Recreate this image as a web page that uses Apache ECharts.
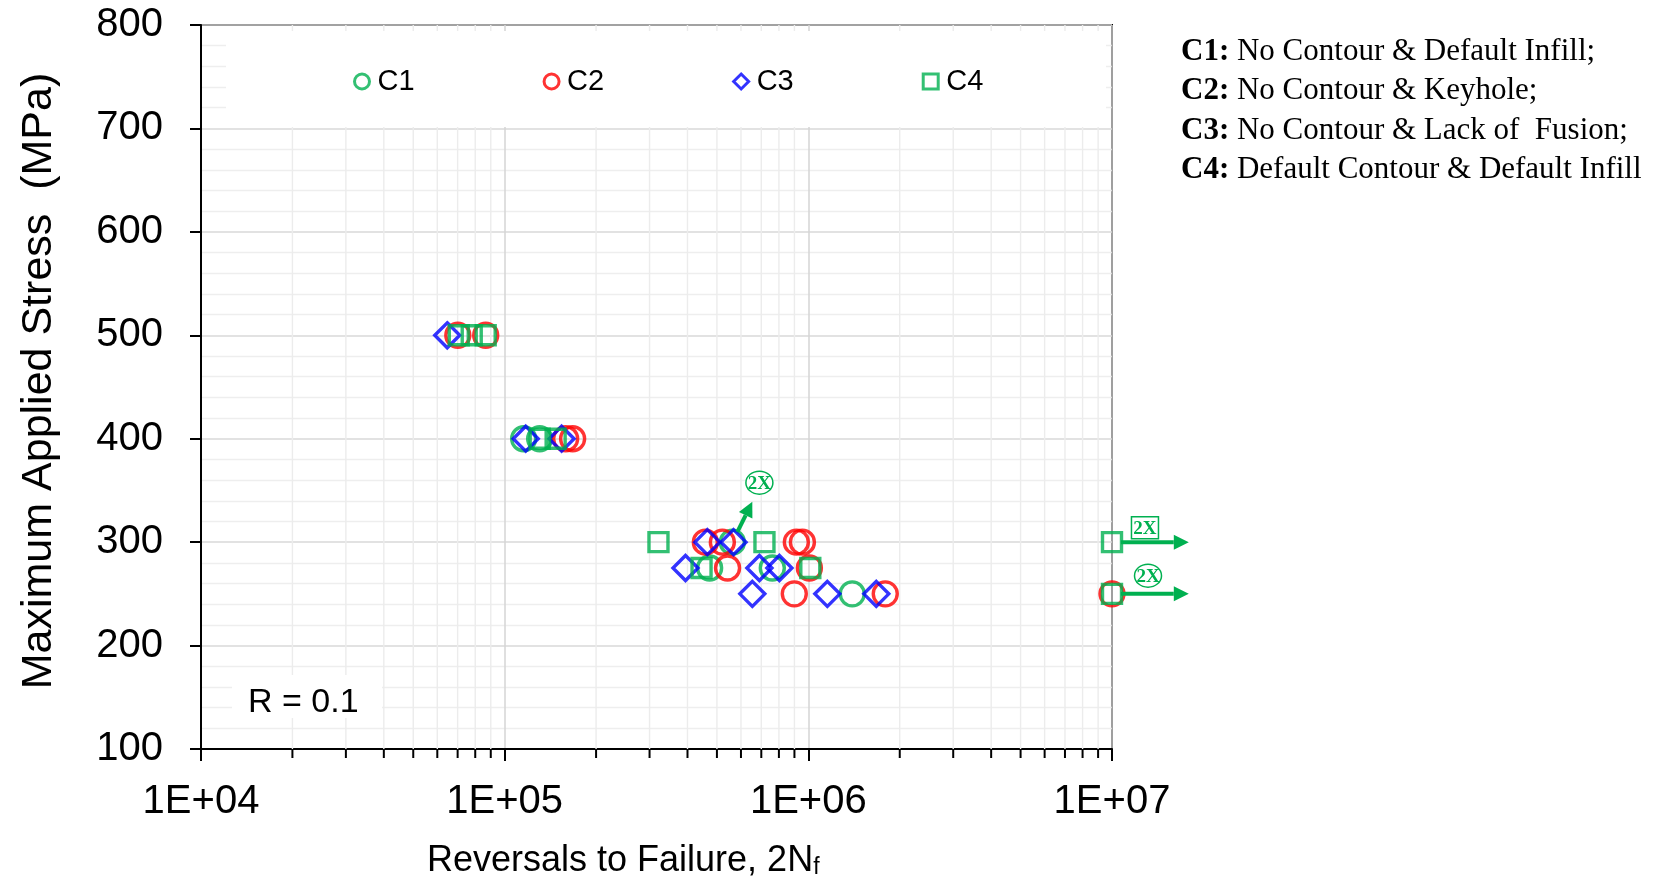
<!DOCTYPE html>
<html>
<head>
<meta charset="utf-8">
<script src="https://cdn.jsdelivr.net/npm/echarts@6/dist/echarts.min.js"></script>
<style>
  html, body { margin: 0; padding: 0; background: #fff; }
  #chart { width: 1657px; height: 879px; }
</style>
</head>
<body>
<div id="chart"></div>
<script>
// reversals to failure (2Nf) and max stress (MPa)
const c1Cycles = [1.155e5, 1.304e5, 5.62e5, 4.73e5, 7.61e5, 1.395e6]
const c1Stress = [400, 400, 300, 275, 275, 250]

const c2Cycles = [7.01e4, 8.66e4, 1.588e5, 1.674e5, 4.58e5, 5.21e5, 9.13e5, 9.56e5, 5.42e5, 1.008e6, 8.99e5, 1.792e6, 1e7]
const c2Stress = [500, 500, 400, 400, 300, 300, 300, 300, 275, 275, 250, 250, 250]

const c3Cycles = [6.47e4, 1.173e5, 1.54e5, 4.65e5, 5.67e5, 3.94e5, 6.9e5, 8.03e5, 6.54e5, 1.155e6, 1.674e6]
const c3Stress = [500, 400, 400, 300, 300, 275, 275, 275, 250, 250, 250]

const c4Cycles = [7.06e4, 7.79e4, 8.66e4, 1.304e5, 1.472e5, 3.21e5, 7.17e5, 1e7, 4.45e5, 1.015e6, 1e7]
const c4Stress = [500, 500, 500, 400, 400, 300, 300, 300, 275, 275, 250]

// run-out arrows: [fromN, fromS, toN, toS]
const runoutArrows = [
    [1.07e7, 300, 1.79e7, 300],
    [1.07e7, 250, 1.79e7, 250],
    [5.84e5, 310, 6.54e5, 339],
]
const boxedLabels = [[1.284e7, 314]]
const circledLabels = [[1.314e7, 267.6], [6.9e5, 357.5]]

const seriesNames = ['C1', 'C2', 'C3', 'C4']
const decadeStarts = [1e4, 1e5, 1e6]
const minorSteps = [2, 3, 4, 5, 6, 7, 8, 9]

const green = '#00B050'
const red = '#FF0000'
const blue = '#0000FF'

const zip = (xs, ys) => xs.map((x, i) => [x, ys[i]])
const minorValues = []
decadeStarts.forEach((d) => minorSteps.forEach((m) => minorValues.push([d * m, 100])))

const chart = echarts.init(document.getElementById('chart'))

const hollow = (c) => ({ color: 'rgba(0,0,0,0)', borderColor: c, borderWidth: 3.4 })

const option = {
    animation: false,
    textStyle: { fontFamily: 'Liberation Sans' },
    grid: {
        left: 201, top: 25, right: 545, bottom: 130,
        show: true, borderColor: '#000', borderWidth: 2,
    },
    legend: {
        data: seriesNames,
        left: 348, top: 62,
        itemGap: 128, itemWidth: 15, itemHeight: 15,
        z: 10,
        itemStyle: { borderWidth: 3 },
        textStyle: { fontSize: 29, color: '#000', padding: [0, 0, 0, 3] },
    },
    xAxis: {
        type: 'log', logBase: 10, min: 1e4, max: 1e7,
        axisLine: { lineStyle: { color: '#000', width: 2 } },
        axisTick: { length: 12, lineStyle: { color: '#000', width: 2 } },
        axisLabel: {
            fontSize: 40, color: '#000', margin: 33,
            formatter: (v) => '1E+0' + Math.round(Math.log10(v)),
        },
        splitLine: { show: true, lineStyle: { color: '#d4d4d4', width: 1.5 } },
    },
    yAxis: {
        type: 'value', min: 100, max: 800, interval: 100,
        axisLine: { show: true, lineStyle: { color: '#000', width: 2 } },
        axisTick: { show: true, length: 11, lineStyle: { color: '#000', width: 2 } },
        axisLabel: { fontSize: 40, color: '#000', margin: 38 },
        splitLine: { show: true, lineStyle: { color: '#d9d9d9', width: 1.5 } },
        minorTick: { show: false, splitNumber: 5 },
        minorSplitLine: { show: true, lineStyle: { color: '#eeeeee', width: 1.3 } },
    },
    graphic: [
        // white legend background
        { type: 'rect', shape: { x: 226, y: 31, width: 880, height: 96 }, style: { fill: '#fff' }, z: 3, silent: true },
        // R box
        { type: 'rect', shape: { x: 232, y: 675, width: 150, height: 43 }, style: { fill: '#fff' }, z: 3, silent: true },
        { type: 'text', x: 248, y: 703, z: 10, style: { text: 'R = 0.1', font: '34px "Liberation Sans"', fill: '#000', verticalAlign: 'middle' } },
        // axis titles
        {
            type: 'text', x: 39, y: 381, rotation: Math.PI / 2, z: 10,
            style: { text: 'Maximum Applied Stress  (MPa)', font: '43px "Liberation Sans"', fill: '#000', align: 'center', verticalAlign: 'middle' },
        },
        {
            type: 'text', x: 427, y: 861, z: 10,
            style: {
                text: '{a|Reversals to Failure, 2N}{s|f}',
                verticalAlign: 'middle',
                rich: {
                    a: { fontSize: 36, fontFamily: 'Liberation Sans', color: '#000' },
                    s: { fontSize: 23, fontFamily: 'Liberation Sans', color: '#000', padding: [14, 0, 0, 0] },
                },
            },
        },
        // description on the right
        ...[
            ['C1:', ' No Contour & Default Infill;'],
            ['C2:', ' No Contour & Keyhole;'],
            ['C3:', ' No Contour & Lack of  Fusion;'],
            ['C4:', ' Default Contour & Default Infill'],
        ].map((t, i) => ({
            type: 'text', x: 1181, y: 52 + i * 39.3, z: 10,
            style: {
                text: '{b|' + t[0] + '}{r|' + t[1] + '}',
                verticalAlign: 'middle',
                rich: {
                    b: { fontSize: 31, fontFamily: 'Liberation Serif', fontWeight: 'bold', color: '#000' },
                    r: { fontSize: 31, fontFamily: 'Liberation Serif', color: '#000' },
                },
            },
        })),
    ],
    series: [
        {
            type: 'custom', name: 'minorGrid', z: 1, silent: true, clip: false,
            data: minorValues,
            renderItem: (params, api) => {
                const top = api.coord([api.value(0), 800])
                const bot = api.coord([api.value(0), 100])
                return {
                    type: 'group',
                    children: [
                        { type: 'line', shape: { x1: top[0], y1: top[1], x2: bot[0], y2: bot[1] }, style: { stroke: '#ececec', lineWidth: 1.4 } },
                        { type: 'line', shape: { x1: bot[0], y1: bot[1], x2: bot[0], y2: bot[1] + 9 }, style: { stroke: '#000', lineWidth: 2 } },
                    ],
                }
            },
        },
        { name: 'C1', type: 'scatter', symbol: 'circle', symbolSize: 24, itemStyle: hollow(green), data: zip(c1Cycles, c1Stress), z: 5 },
        { name: 'C2', type: 'scatter', symbol: 'circle', symbolSize: 24, itemStyle: hollow(red), data: zip(c2Cycles, c2Stress), z: 5 },
        { name: 'C3', type: 'scatter', symbol: 'diamond', symbolSize: 25, itemStyle: hollow(blue), data: zip(c3Cycles, c3Stress), z: 5 },
        { name: 'C4', type: 'scatter', symbol: 'rect', symbolSize: 19, itemStyle: hollow(green), data: zip(c4Cycles, c4Stress), z: 5 },
        {
            type: 'custom', name: 'runout', z: 6, silent: true, clip: false,
            encode: { x: [0, 2], y: [1, 3] },
            data: runoutArrows,
            renderItem: (params, api) => {
                const p0 = api.coord([api.value(0), api.value(1)])
                const p1 = api.coord([api.value(2), api.value(3)])
                const ang = Math.atan2(p1[1] - p0[1], p1[0] - p0[0])
                const hl = 15, hw = 7.5
                const bx = p1[0] - hl * Math.cos(ang), by = p1[1] - hl * Math.sin(ang)
                const nx = -Math.sin(ang) * hw, ny = Math.cos(ang) * hw
                return {
                    type: 'group',
                    children: [
                        { type: 'line', shape: { x1: p0[0], y1: p0[1], x2: bx, y2: by }, style: { stroke: green, lineWidth: 4 } },
                        { type: 'polygon', shape: { points: [[p1[0], p1[1]], [bx + nx, by + ny], [bx - nx, by - ny]] }, style: { fill: green } },
                    ],
                }
            },
        },
        {
            type: 'custom', name: 'boxed', z: 6, silent: true, clip: false,
            data: boxedLabels,
            renderItem: (params, api) => {
                const p = api.coord([api.value(0), api.value(1)])
                return {
                    type: 'group',
                    children: [
                        { type: 'rect', shape: { x: p[0] - 13.5, y: p[1] - 11, width: 27, height: 22 }, style: { fill: '#fff', stroke: green, lineWidth: 1.5 } },
                        { type: 'text', x: p[0], y: p[1] + 1, style: { text: '2X', font: 'bold 19px "Liberation Serif"', fill: green, align: 'center', verticalAlign: 'middle' } },
                    ],
                }
            },
        },
        {
            type: 'custom', name: 'circled', z: 6, silent: true, clip: false,
            data: circledLabels,
            renderItem: (params, api) => {
                const p = api.coord([api.value(0), api.value(1)])
                return {
                    type: 'group',
                    children: [
                        { type: 'ellipse', shape: { cx: p[0], cy: p[1], rx: 13.5, ry: 11.5 }, style: { fill: '#fff', stroke: green, lineWidth: 1.5 } },
                        { type: 'text', x: p[0], y: p[1] + 1, style: { text: '2X', font: 'bold 19px "Liberation Serif"', fill: green, align: 'center', verticalAlign: 'middle' } },
                    ],
                }
            },
        },
    ],
}

chart.setOption(option)
</script>
</body>
</html>
